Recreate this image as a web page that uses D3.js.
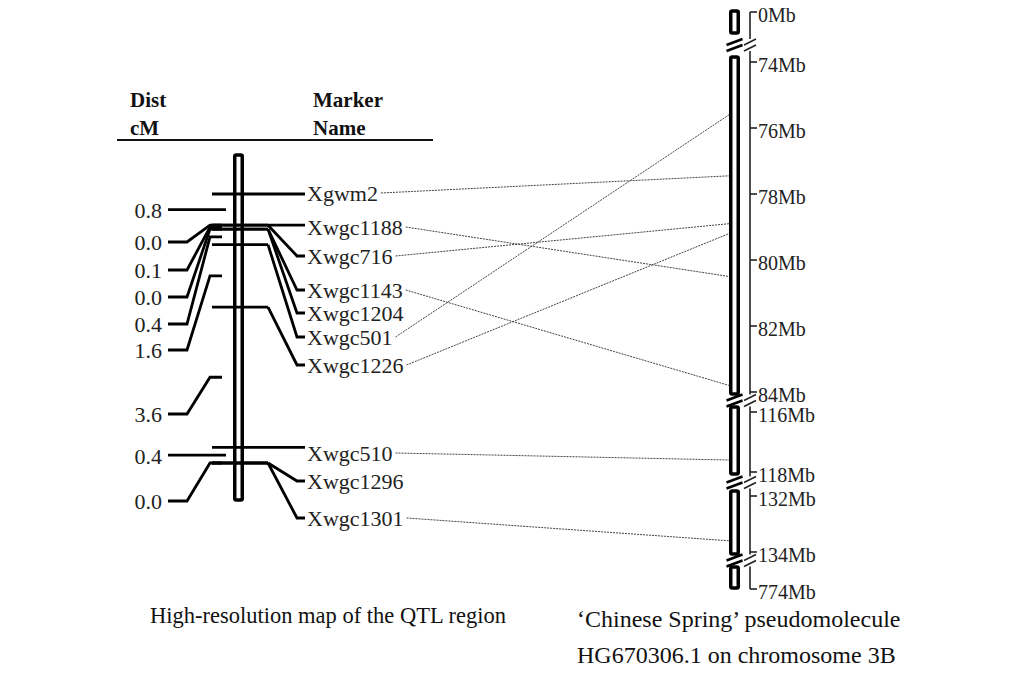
<!DOCTYPE html>
<html>
<head>
<meta charset="utf-8">
<script src="https://cdn.jsdelivr.net/npm/d3@7"></script>
<style>
  body { margin: 0; background: #fff; }
  svg { display: block; }
</style>
</head>
<body>
<svg id="chart" width="1034" height="698"></svg>
<script>
// ---- Genetic map of the QTL region ----
const markerNames = ["Xgwm2", "Xwgc1188", "Xwgc716", "Xwgc1143", "Xwgc1204",
                     "Xwgc501", "Xwgc1226", "Xwgc510", "Xwgc1296", "Xwgc1301"];
// distances (cM) between consecutive loci
const intervalCM = [0.8, 0.0, 0.1, 0.0, 0.4, 1.6, 3.6, 0.4, 0.0];
// anchored position (Mb) on the 3B pseudomolecule; null = not anchored
const markerMb = [77.45, 80.5, 78.9, 83.8, null, 75.6, 79.2, 117.6, null, 133.6];

// ---- Physical map (broken into displayed segments) ----
const segmentMb = [[0, 0], [74, 84], [116, 118], [132, 134], [774, 774]];
const physTicks = [0, 74, 76, 78, 80, 82, 84, 116, 118, 132, 134, 774];
const physTickLabels = ["0Mb", "74Mb", "76Mb", "78Mb", "80Mb", "82Mb", "84Mb",
                        "116Mb", "118Mb", "132Mb", "134Mb", "774Mb"];

// ---- Text ----
const headers = [["Dist", "cM"], ["Marker", "Name"]];
const captionLeft = "High-resolution map of the QTL region";
const captionRight = ["\u2018Chinese Spring\u2019 pseudomolecule", "HG670306.1 on chromosome 3B"];

// ---- Layout ----
const FONT = "Liberation Serif";
const svg = d3.select("#chart");

// cumulative map positions of the loci
const markerCM = [0];
intervalCM.forEach((d, i) => markerCM.push(+(markerCM[i] + d).toFixed(2)));

const gmY = d3.scaleLinear().domain(d3.extent(markerCM)).range([194, 463]);

// label placement (spread out so names and distances do not collide)
const markerLabelY = [193, 227, 256, 290, 313, 337, 365, 453, 481, 518];
const intervalLabelY = [210, 242, 270, 297, 324, 350, 414, 456, 501];

const chromX = 238.5, chromW = 7.5;
const locusX0 = 212, locusX1 = 268, nameX = 307;
const distX = 162;

// header
const hdr = svg.append("g").style("font-family", FONT).style("font-weight", "bold")
  .style("font-size", "21px").attr("fill", "#111");
headers.forEach((pair, i) => {
  const x = i === 0 ? 130 : 313;
  pair.forEach((t, j) => {
    hdr.append("text").attr("x", x).attr("y", 107 + j * 28).text(t);
  });
});
svg.append("line").attr("x1", 117).attr("x2", 433).attr("y1", 140).attr("y2", 140)
  .attr("stroke", "#111").attr("stroke-width", 2);

// left chromosome bar
const [gTop, gBot] = gmY.range();
svg.append("rect")
  .attr("x", chromX - chromW / 2).attr("width", chromW)
  .attr("y", gTop - 39).attr("height", (gBot + 37) - (gTop - 39))
  .attr("rx", 1.5)
  .attr("fill", "#fff").attr("stroke", "#000").attr("stroke-width", 3.5);

const lines = svg.append("g").attr("fill", "none").attr("stroke", "#000")
  .attr("stroke-width", 2.8).attr("stroke-linejoin", "miter");

// loci crossing the chromosome
markerCM.forEach(cm => {
  lines.append("line").attr("x1", locusX0).attr("x2", locusX1)
    .attr("y1", gmY(cm)).attr("y2", gmY(cm));
});

// right-hand leaders to marker names
markerCM.forEach((cm, i) => {
  const y0 = gmY(cm), y1 = markerLabelY[i];
  if (Math.abs(y1 - y0) < 6) {
    lines.append("path").attr("d", `M${locusX1},${y0}H${nameX - 2}`);
  } else {
    lines.append("path").attr("d", `M${locusX1},${y0}L${nameX - 10},${y1}H${nameX - 2}`);
  }
});

// left-hand leaders to interval distances
intervalCM.forEach((d, i) => {
  const mid = gmY((markerCM[i] + markerCM[i + 1]) / 2), ly = intervalLabelY[i];
  if (Math.abs(ly - mid) < 3) {
    lines.append("path").attr("d", `M168,${mid}H226`);
  } else {
    lines.append("path").attr("d", `M168,${ly}H187L210,${mid}H222`);
  }
});

// interval distance labels
svg.append("g").style("font-family", FONT).style("font-size", "22px").attr("fill", "#222")
  .attr("text-anchor", "end")
  .selectAll("text").data(intervalCM).join("text")
  .attr("x", distX).attr("y", (d, i) => intervalLabelY[i])
  .attr("dominant-baseline", "central")
  .text(d => d.toFixed(1));

// marker names
const names = svg.append("g").style("font-family", FONT).style("font-size", "22px").attr("fill", "#222")
  .selectAll("text").data(markerNames).join("text")
  .attr("x", nameX).attr("y", (d, i) => markerLabelY[i])
  .attr("dominant-baseline", "central")
  .text(d => d);

// ---- physical map ----
const segRange = [[12, 12], [62, 392], [412, 472], [496, 552], [589, 589]];
const segScales = segmentMb.map((dom, k) => d3.scaleLinear().domain(dom).range(segRange[k]));
function physY(mb) {
  const k = segmentMb.findIndex(s => mb >= s[0] && mb <= s[1]);
  return segScales[k](mb);
}

const pX = 734.5, pW = 7.5, brX = 750;
const last = segmentMb.length - 1;
const segRects = segRange.map((r, k) => {
  if (k === 0) return [r[0] - 1, r[0] + 21];
  if (k === last) return [r[1] - 22, r[1] - 1];
  return [r[0] - 5, r[1] + 2];
});
const breaks = d3.range(last).map(k => (segRects[k][1] + segRects[k + 1][0]) / 2);

// chromosome pieces
svg.append("g").selectAll("rect").data(segRects).join("rect")
  .attr("x", pX - pW / 2).attr("width", pW)
  .attr("y", d => d[0]).attr("height", d => d[1] - d[0])
  .attr("rx", 1.5)
  .attr("fill", "#fff").attr("stroke", "#000").attr("stroke-width", 3.5);

// ruler next to the chromosome
const ruler = svg.append("g").attr("stroke", "#222").attr("stroke-width", 1.6).attr("fill", "none");
segRange.forEach((r, k) => {
  const yA = k === 0 ? r[0] : breaks[k - 1] + 6;
  const yB = k === last ? r[1] : breaks[k] - 6;
  ruler.append("line").attr("x1", brX).attr("x2", brX).attr("y1", yA).attr("y2", yB);
});
physTicks.forEach(mb => {
  const y = physY(mb);
  ruler.append("line").attr("x1", brX).attr("x2", brX + 7).attr("y1", y).attr("y2", y);
});

// break marks on chromosome and ruler
const brk = svg.append("g").attr("fill", "none");
breaks.forEach(yb => {
  [-3, 3].forEach(off => {
    brk.append("line").attr("x1", pX - 8).attr("x2", pX + 8)
      .attr("y1", yb + off + 3).attr("y2", yb + off - 3)
      .attr("stroke", "#000").attr("stroke-width", 2.5);
    brk.append("line").attr("x1", brX - 6).attr("x2", brX + 6)
      .attr("y1", yb + off + 3).attr("y2", yb + off - 3)
      .attr("stroke", "#222").attr("stroke-width", 1.6);
  });
});

// physical tick labels
svg.append("g").style("font-family", FONT).style("font-size", "20px").attr("fill", "#222")
  .selectAll("text").data(physTicks).join("text")
  .attr("x", brX + 8).attr("y", d => physY(d) + 3)
  .attr("dominant-baseline", "central")
  .text((d, i) => physTickLabels[i]);

// connections between genetic and physical positions
const conn = svg.append("g").attr("stroke", "#444").attr("stroke-width", 1)
  .attr("stroke-dasharray", "2,1").attr("fill", "none");
names.each(function (d, i) {
  if (markerMb[i] == null) return;
  const x0 = nameX + this.getComputedTextLength() + 3;
  conn.append("line")
    .attr("x1", x0).attr("y1", markerLabelY[i])
    .attr("x2", pX - pW / 2 - 1.75).attr("y2", physY(markerMb[i]));
});

// captions
const cap = svg.append("g").style("font-family", FONT).attr("fill", "#111");
cap.append("text").style("font-size", "22.5px").attr("x", 150).attr("y", 623).text(captionLeft);
captionRight.forEach((t, i) => {
  cap.append("text").style("font-size", "24px").attr("x", 577).attr("y", 627 + i * 36).text(t);
});
</script>
</body>
</html>
